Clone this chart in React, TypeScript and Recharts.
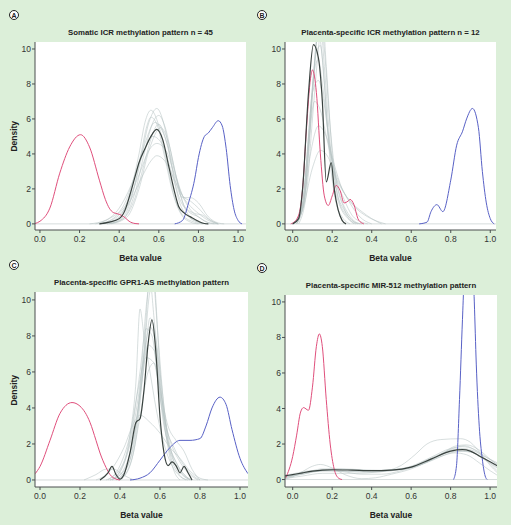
import React from "react";
import {
  LineChart,
  Line,
  XAxis,
  YAxis,
  CartesianGrid,
  ReferenceLine,
} from "recharts";

type Pt = [number, number];

const X_TICKS = [0, 0.2, 0.4, 0.6, 0.8, 1.0];
const Y_TICKS = [0, 2, 4, 6, 8, 10];

const TITLES = [
  "Somatic ICR methylation pattern n = 45",
  "Placenta-specific ICR methylation pattern n = 12",
  "Placenta-specific GPR1-AS methylation pattern",
  "Placenta-specific MIR-512 methylation pattern",
];
const LETTERS = ["A", "B", "C", "D"];

// panel A
const aRed: Pt[] = [[-0.025, 0.02], [0.0, 0.15], [0.05, 0.9], [0.1, 2.9], [0.15, 4.4], [0.205, 5.1], [0.25, 4.4], [0.3, 2.5], [0.33, 1.4], [0.35, 0.9], [0.37, 0.65], [0.39, 0.58], [0.41, 0.5], [0.43, 0.35], [0.45, 0.15], [0.48, 0.02], [0.5, 0]];
const aBlue: Pt[] = [[0.68, 0], [0.72, 0.2], [0.75, 1.2], [0.78, 2.5], [0.8, 3.8], [0.83, 5.0], [0.85, 5.2], [0.87, 5.5], [0.9, 5.9], [0.92, 5.6], [0.94, 4.3], [0.96, 2.2], [0.98, 0.8], [1.0, 0.2], [1.02, 0]];
const aDark: Pt[] = [[0.3, 0], [0.35, 0.1], [0.4, 0.3], [0.43, 0.8], [0.45, 1.5], [0.48, 2.7], [0.5, 3.5], [0.53, 4.3], [0.56, 5.0], [0.59, 5.4], [0.62, 4.8], [0.65, 3.3], [0.68, 1.8], [0.7, 1.0], [0.73, 0.6], [0.76, 0.4], [0.8, 0.15], [0.83, 0.02], [0.85, 0]];
const aGrey: Pt[][] = [
  [[0.3, 0], [0.4, 0.3], [0.45, 1.2], [0.5, 3.2], [0.55, 5.8], [0.59, 6.6], [0.63, 5.5], [0.67, 3.0], [0.7, 1.4], [0.75, 0.4], [0.8, 0.1], [0.85, 0]],
  [[0.32, 0], [0.4, 0.4], [0.45, 1.6], [0.5, 4.0], [0.53, 5.8], [0.56, 6.5], [0.6, 5.6], [0.64, 3.5], [0.68, 1.5], [0.72, 0.5], [0.78, 0.1], [0.82, 0]],
  [[0.35, 0], [0.42, 0.3], [0.48, 1.8], [0.53, 4.2], [0.57, 5.8], [0.6, 6.2], [0.63, 5.6], [0.67, 3.6], [0.71, 1.6], [0.75, 0.5], [0.8, 0.1], [0.84, 0]],
  [[0.28, 0], [0.35, 0.3], [0.42, 1.0], [0.48, 2.8], [0.53, 4.6], [0.58, 5.8], [0.63, 5.0], [0.68, 3.0], [0.72, 1.6], [0.76, 0.8], [0.8, 0.4], [0.86, 0.05], [0.9, 0]],
  [[0.3, 0], [0.38, 0.4], [0.44, 1.2], [0.5, 2.8], [0.55, 4.2], [0.59, 4.6], [0.64, 4.1], [0.68, 2.8], [0.72, 1.6], [0.76, 1.0], [0.8, 0.6], [0.85, 0.2], [0.9, 0]],
  [[0.3, 0], [0.4, 0.5], [0.46, 1.4], [0.52, 2.8], [0.56, 3.6], [0.59, 3.9], [0.63, 3.6], [0.68, 2.5], [0.72, 1.6], [0.76, 1.3], [0.8, 0.9], [0.85, 0.3], [0.9, 0]],
  [[0.34, 0], [0.42, 0.3], [0.48, 1.5], [0.53, 3.6], [0.57, 5.2], [0.6, 5.7], [0.64, 4.6], [0.68, 2.6], [0.72, 1.5], [0.76, 1.5], [0.8, 1.2], [0.85, 0.4], [0.9, 0.05], [0.93, 0]],
  [[0.34, 0], [0.42, 0.4], [0.47, 1.8], [0.51, 4.0], [0.54, 5.6], [0.56, 6.1], [0.59, 5.7], [0.63, 3.8], [0.67, 1.8], [0.71, 0.6], [0.76, 0.1], [0.8, 0]],
  [[0.25, 0], [0.33, 0.2], [0.4, 0.9], [0.46, 2.2], [0.52, 4.0], [0.57, 5.0], [0.62, 4.5], [0.67, 2.7], [0.71, 1.3], [0.75, 0.7], [0.8, 0.4], [0.84, 0.1], [0.88, 0]],
  [[0.36, 0], [0.44, 0.4], [0.5, 2.0], [0.55, 4.2], [0.61, 5.5], [0.65, 4.6], [0.69, 2.6], [0.73, 1.0], [0.78, 0.6], [0.82, 0.5], [0.86, 0.2], [0.9, 0]],
];

// panel B
const bRed: Pt[] = [[-0.01, 0], [0.0, 0.05], [0.03, 0.5], [0.05, 2.0], [0.07, 5.5], [0.09, 8.3], [0.1, 8.8], [0.12, 7.5], [0.14, 4.0], [0.16, 1.6], [0.18, 1.05], [0.2, 1.6], [0.22, 2.2], [0.24, 1.9], [0.26, 1.2], [0.28, 1.3], [0.29, 1.4], [0.31, 1.1], [0.33, 0.3], [0.35, 0.05], [0.36, 0]];
const bBlue: Pt[] = [[0.64, 0], [0.68, 0.1], [0.7, 0.7], [0.73, 1.1], [0.76, 0.7], [0.8, 2.5], [0.83, 4.5], [0.86, 5.3], [0.88, 6.0], [0.91, 6.6], [0.94, 5.5], [0.96, 3.0], [0.98, 1.2], [1.0, 0.3], [1.02, 0]];
const bDark: Pt[] = [[0.0, 0], [0.03, 0.3], [0.05, 2.0], [0.08, 7.5], [0.105, 10.25], [0.13, 9.5], [0.15, 7.0], [0.17, 2.4], [0.195, 3.5], [0.21, 2.0], [0.23, 0.8], [0.25, 0.2], [0.27, 0]];
const bGrey: Pt[][] = [
  [[0.0, 0], [0.05, 0.8], [0.08, 4], [0.11, 9], [0.13, 11], [0.15, 9.5], [0.18, 5], [0.21, 2.2], [0.24, 1.0], [0.28, 0.3], [0.32, 0]],
  [[0.02, 0], [0.06, 1.5], [0.09, 6], [0.12, 10.5], [0.14, 11.5], [0.16, 9], [0.19, 4.5], [0.22, 2.0], [0.26, 0.8], [0.3, 0.2], [0.34, 0]],
  [[0.0, 0], [0.04, 0.6], [0.07, 3.5], [0.1, 7.5], [0.13, 8.2], [0.16, 6.8], [0.19, 4.2], [0.22, 2.6], [0.26, 1.4], [0.3, 0.5], [0.35, 0.1], [0.38, 0]],
  [[0.0, 0], [0.05, 0.8], [0.1, 3.2], [0.14, 4.2], [0.18, 3.8], [0.22, 2.6], [0.27, 1.6], [0.32, 0.9], [0.38, 0.4], [0.44, 0.1], [0.47, 0]],
  [[0.01, 0], [0.05, 1.2], [0.08, 5], [0.11, 8.8], [0.13, 9.4], [0.15, 8], [0.18, 5.2], [0.21, 3.0], [0.24, 1.6], [0.28, 0.6], [0.32, 0.1], [0.35, 0]],
  [[0.03, 0], [0.07, 1.8], [0.1, 6], [0.13, 10], [0.15, 12], [0.17, 9], [0.2, 4], [0.23, 1.5], [0.27, 0.5], [0.31, 0]],
  [[0.0, 0], [0.05, 1], [0.08, 4.5], [0.11, 7], [0.14, 6.5], [0.18, 4.5], [0.22, 2.8], [0.26, 1.8], [0.3, 1.0], [0.34, 0.4], [0.4, 0]],
  [[0.02, 0], [0.06, 2], [0.09, 6.5], [0.12, 9.8], [0.14, 10.2], [0.16, 8], [0.19, 3.5], [0.22, 1.2], [0.25, 0.4], [0.29, 0]],
  [[0.0, 0], [0.05, 0.9], [0.09, 4], [0.13, 5.6], [0.17, 5.0], [0.21, 3.4], [0.25, 2.0], [0.3, 1.2], [0.35, 0.7], [0.4, 0.3], [0.45, 0]],
  [[0.02, 0], [0.06, 1.5], [0.1, 7.5], [0.12, 10.4], [0.14, 12], [0.16, 10], [0.19, 5.5], [0.22, 2.5], [0.26, 0.9], [0.3, 0.2], [0.33, 0]],
];

// panel C
const cRed: Pt[] = [[-0.024, 0.35], [0.0, 0.75], [0.05, 2.2], [0.1, 3.7], [0.16, 4.3], [0.2, 4.1], [0.25, 3.2], [0.28, 2.2], [0.3, 1.5], [0.33, 0.7], [0.35, 0.3], [0.38, 0.05], [0.4, 0]];
const cBlue: Pt[] = [[0.45, 0], [0.5, 0.1], [0.55, 0.4], [0.6, 1.1], [0.65, 1.8], [0.7, 2.2], [0.75, 2.2], [0.8, 2.3], [0.83, 3.0], [0.86, 4.0], [0.9, 4.6], [0.93, 4.2], [0.96, 2.8], [1.0, 1.2], [1.04, 0.35]];
const cDark: Pt[] = [[0.3, 0], [0.34, 0.4], [0.36, 0.75], [0.38, 0.3], [0.4, 0.05], [0.42, 0.3], [0.45, 1.5], [0.48, 3.2], [0.5, 3.4], [0.52, 5.0], [0.54, 7.5], [0.56, 8.9], [0.58, 7.0], [0.6, 3.5], [0.62, 1.5], [0.64, 0.8], [0.66, 1.0], [0.68, 0.8], [0.7, 0.4], [0.72, 0.75], [0.74, 0.4], [0.76, 0]];
const cGrey: Pt[][] = [
  [[0.35, 0], [0.42, 0.5], [0.46, 2], [0.5, 5], [0.53, 9.5], [0.55, 11], [0.57, 9], [0.6, 5], [0.63, 2.5], [0.67, 1], [0.72, 0.2], [0.76, 0]],
  [[0.33, 0], [0.4, 0.6], [0.45, 2.5], [0.48, 5.5], [0.5, 9.5], [0.52, 8], [0.55, 6], [0.58, 4], [0.62, 2], [0.66, 0.8], [0.7, 0.2], [0.74, 0]],
  [[0.38, 0], [0.44, 0.8], [0.48, 3], [0.52, 7], [0.55, 10.5], [0.57, 11], [0.59, 8], [0.62, 4], [0.65, 1.5], [0.69, 0.4], [0.73, 0]],
  [[0.36, 0], [0.42, 0.9], [0.46, 2.8], [0.5, 6], [0.53, 8.4], [0.56, 8], [0.59, 5.5], [0.62, 3], [0.66, 1.5], [0.7, 0.6], [0.75, 0]],
  [[0.28, 0], [0.35, 0.5], [0.42, 1.8], [0.47, 3.2], [0.5, 3.6], [0.55, 3.2], [0.6, 2.6], [0.65, 1.8], [0.7, 1.2], [0.75, 0.5], [0.8, 0.1], [0.84, 0]],
  [[0.35, 0], [0.4, 0.5], [0.45, 2], [0.49, 4.5], [0.52, 7], [0.55, 8.5], [0.58, 7.5], [0.61, 4.5], [0.64, 2.2], [0.68, 1.0], [0.72, 0.3], [0.76, 0]],
  [[0.36, 0], [0.42, 0.6], [0.47, 2.5], [0.51, 5.5], [0.54, 7.5], [0.57, 7.2], [0.6, 5.2], [0.63, 3], [0.67, 1.8], [0.72, 0.8], [0.77, 0.2], [0.8, 0]],
  [[0.4, 0], [0.45, 0.8], [0.49, 3.2], [0.52, 7], [0.54, 10.5], [0.56, 12], [0.58, 9.5], [0.61, 4.5], [0.64, 1.8], [0.67, 0.5], [0.7, 0]],
  [[0.34, 0], [0.4, 0.8], [0.45, 2.5], [0.49, 5], [0.53, 6.8], [0.57, 6.5], [0.61, 4], [0.65, 2.2], [0.7, 1], [0.75, 0.3], [0.79, 0]],
  [[0.22, 0], [0.28, 0.3], [0.33, 0.6], [0.37, 0.6], [0.4, 0.4], [0.43, 0.2], [0.47, 0]],
  [[0.38, 0], [0.43, 0.6], [0.47, 2], [0.5, 4.5], [0.53, 7.5], [0.55, 9], [0.57, 8.5], [0.6, 6], [0.63, 3.2], [0.66, 1.4], [0.7, 0.5], [0.75, 0]],
  [[0.4, 0], [0.46, 1.2], [0.5, 3.5], [0.54, 6], [0.57, 6.5], [0.6, 5], [0.64, 3], [0.68, 2.2], [0.72, 1.6], [0.76, 0.6], [0.8, 0]],
];

// panel D
const dRed: Pt[] = [[-0.035, 0.1], [0.0, 1.3], [0.02, 2.5], [0.04, 3.8], [0.055, 4.05], [0.08, 3.9], [0.1, 5.2], [0.12, 7.5], [0.135, 8.2], [0.15, 7.5], [0.17, 4.5], [0.19, 2.0], [0.21, 0.6], [0.23, 0.1], [0.25, 0]];
const dBlue: Pt[] = [[0.815, 0], [0.83, 0.8], [0.845, 4.5], [0.86, 9], [0.89, 16], [0.92, 10], [0.93, 6.5], [0.945, 3], [0.96, 1.2], [0.975, 0.2], [0.985, 0]];
const dDark: Pt[] = [[-0.04, 0.2], [0.0, 0.28], [0.05, 0.38], [0.1, 0.47], [0.15, 0.53], [0.2, 0.55], [0.3, 0.53], [0.4, 0.5], [0.5, 0.53], [0.6, 0.7], [0.7, 1.15], [0.8, 1.6], [0.86, 1.68], [0.9, 1.6], [0.95, 1.3], [1.0, 1.0], [1.035, 0.78]];
const dGrey: Pt[][] = [
  [[-0.04, 0.15], [0.0, 0.25], [0.1, 0.5], [0.15, 0.6], [0.2, 0.6], [0.3, 0.55], [0.4, 0.5], [0.5, 0.55], [0.6, 0.75], [0.7, 1.25], [0.8, 1.75], [0.86, 1.85], [0.92, 1.7], [0.97, 1.35], [1.035, 0.85]],
  [[-0.04, 0.1], [0.0, 0.2], [0.1, 0.45], [0.2, 0.5], [0.3, 0.45], [0.4, 0.45], [0.5, 0.5], [0.6, 0.65], [0.7, 1.05], [0.8, 1.5], [0.86, 1.6], [0.92, 1.5], [0.97, 1.2], [1.035, 0.7]],
  [[-0.04, 0.05], [0.05, 0.2], [0.15, 0.35], [0.3, 0.35], [0.45, 0.45], [0.55, 0.8], [0.62, 1.4], [0.68, 2.0], [0.75, 2.25], [0.85, 2.3], [0.9, 2.1], [0.95, 1.5], [1.0, 0.8], [1.035, 0.4]],
  [[-0.04, 0.05], [0.0, 0.15], [0.05, 0.45], [0.1, 0.75], [0.14, 0.85], [0.2, 0.65], [0.27, 0.25], [0.35, 0.05], [0.42, 0.1], [0.5, 0.3], [0.6, 0.6], [0.7, 1.1], [0.8, 1.7], [0.87, 1.9], [0.93, 1.6], [1.0, 0.9], [1.035, 0.5]],
  [[-0.04, 0.25], [0.0, 0.32], [0.1, 0.5], [0.2, 0.5], [0.3, 0.45], [0.4, 0.42], [0.5, 0.5], [0.6, 0.72], [0.7, 1.2], [0.8, 1.65], [0.85, 1.75], [0.92, 1.6], [0.98, 1.25], [1.035, 0.95]],
  [[-0.04, 0.2], [0.05, 0.35], [0.15, 0.5], [0.25, 0.45], [0.35, 0.3], [0.45, 0.3], [0.55, 0.5], [0.65, 0.9], [0.75, 1.4], [0.83, 1.6], [0.9, 1.55], [0.96, 1.2], [1.035, 0.65]],
  [[-0.04, 0.15], [0.05, 0.3], [0.15, 0.55], [0.25, 0.6], [0.35, 0.55], [0.45, 0.52], [0.55, 0.58], [0.65, 0.85], [0.75, 1.4], [0.83, 1.9], [0.88, 1.95], [0.94, 1.7], [1.0, 1.15], [1.035, 0.85]],
  [[-0.04, 0.12], [0.05, 0.3], [0.15, 0.5], [0.25, 0.55], [0.4, 0.5], [0.55, 0.6], [0.65, 0.85], [0.75, 1.3], [0.82, 1.5], [0.88, 1.4], [0.95, 0.9], [1.0, 0.5], [1.035, 0.25]],
];

const toRows = (pts: Pt[]) => pts.map(([x, y]) => ({ x, y }));

const FONT = "'Liberation Sans', Arial, sans-serif";
const AXIS = "#4a4f4f";
const GREY = "#b4c2c2";
const DARK = "#39423f";
const RED = "#e04f7c";
const BLUE = "#5861c6";

type PanelCfg = {
  left: number;
  top: number;
  width: number;
  height: number;
  xDomain: [number, number];
  yDomain: [number, number];
  red: Pt[];
  blue: Pt[];
  dark: Pt[];
  grey: Pt[][];
};

const PANELS: PanelCfg[] = [
  { left: 35, top: 42, width: 211, height: 188, xDomain: [-0.025, 1.04], yDomain: [-0.35, 10.4], red: aRed, blue: aBlue, dark: aDark, grey: aGrey },
  { left: 285, top: 42, width: 211, height: 188, xDomain: [-0.039, 1.029], yDomain: [-0.35, 10.4], red: bRed, blue: bBlue, dark: bDark, grey: bGrey },
  { left: 35, top: 292, width: 213, height: 195, xDomain: [-0.025, 1.04], yDomain: [-0.39, 10.44], red: cRed, blue: cBlue, dark: cDark, grey: cGrey },
  { left: 285, top: 295, width: 212, height: 192, xDomain: [-0.039, 1.035], yDomain: [-0.42, 10.39], red: dRed, blue: dBlue, dark: dDark, grey: dGrey },
];

function Panel({ cfg }: { cfg: PanelCfg }) {
  const ML = 30;
  const MT = 5;
  const MR = 5;
  const MB = 25;
  return (
    <div style={{ position: "absolute", left: cfg.left - ML, top: cfg.top - MT }}>
      <LineChart
        width={cfg.width + ML + MR}
        height={cfg.height + MT + MB}
        margin={{ top: MT, right: MR, left: 0, bottom: 0 }}
      >
        <CartesianGrid horizontal={false} vertical={false} fill="#ffffff" fillOpacity={1} />
        <XAxis
          type="number"
          dataKey="x"
          domain={cfg.xDomain}
          ticks={X_TICKS}
          allowDataOverflow
          height={MB}
          tickSize={3}
          tickMargin={3}
          tickFormatter={(v: number) => v.toFixed(1)}
          stroke={AXIS}
          tick={{ fontSize: 8.5, fill: "#333", fontFamily: FONT }}
        />
        <YAxis
          type="number"
          dataKey="y"
          domain={cfg.yDomain}
          ticks={Y_TICKS}
          allowDataOverflow
          width={ML}
          tickSize={3}
          tickMargin={1}
          stroke={AXIS}
          tick={{ fontSize: 8.5, fill: "#333", fontFamily: FONT }}
        />
        <ReferenceLine y={0} stroke="#d6dcdc" strokeWidth={1} />
        {cfg.grey.map((g, i) => (
          <Line
            key={"g" + i}
            data={toRows(g)}
            dataKey="y"
            type="monotone"
            stroke={GREY}
            strokeWidth={0.6}
            strokeOpacity={0.9}
            dot={false}
            isAnimationActive={false}
          />
        ))}
        <Line data={toRows(cfg.red)} dataKey="y" type="monotone" stroke={RED} strokeWidth={1} dot={false} isAnimationActive={false} />
        <Line data={toRows(cfg.blue)} dataKey="y" type="monotone" stroke={BLUE} strokeWidth={1} dot={false} isAnimationActive={false} />
        <Line data={toRows(cfg.dark)} dataKey="y" type="monotone" stroke={DARK} strokeWidth={1.2} dot={false} isAnimationActive={false} />
      </LineChart>
    </div>
  );
}

const textBase: React.CSSProperties = {
  position: "absolute",
  fontFamily: FONT,
  fontWeight: "bold",
  color: "#222",
  whiteSpace: "nowrap",
  lineHeight: 1,
};

export default function App() {
  return (
    <div
      style={{
        position: "absolute",
        left: 0,
        top: 0,
        width: 511,
        height: 525,
        background: "#dcefd9",
        overflow: "hidden",
      }}
    >
      {PANELS.map((p, i) => (
        <React.Fragment key={i}>
          <Panel cfg={p} />
          <div
            style={{
              ...textBase,
              fontSize: 7.8,
              left: p.left + p.width / 2 - 110,
              width: 220,
              textAlign: "center",
              top: p.top - 13,
            }}
          >
            {TITLES[i]}
          </div>
          <div
            style={{
              ...textBase,
              fontSize: 8.5,
              left: p.left + p.width / 2 - 50,
              width: 100,
              textAlign: "center",
              top: p.top + p.height + 24,
            }}
          >
            Beta value
          </div>
          <div
            style={{
              ...textBase,
              fontSize: 7,
              left: i % 2 === 0 ? 9 : 257,
              top: p.top - 32,
              width: 10,
              height: 10,
              border: "1px solid #222",
              borderRadius: "50%",
              background: "#fff",
              display: "flex",
              alignItems: "center",
              justifyContent: "center",
              boxSizing: "border-box",
            }}
          >
            {LETTERS[i]}
          </div>
        </React.Fragment>
      ))}
      {[0, 2].map((i) => (
        <div
          key={"d" + i}
          style={{
            ...textBase,
            fontSize: 8.5,
            left: 14 - 30,
            width: 60,
            textAlign: "center",
            top: PANELS[i].top + PANELS[i].height / 2 - 4,
            transform: "rotate(-90deg)",
          }}
        >
          Density
        </div>
      ))}
    </div>
  );
}
